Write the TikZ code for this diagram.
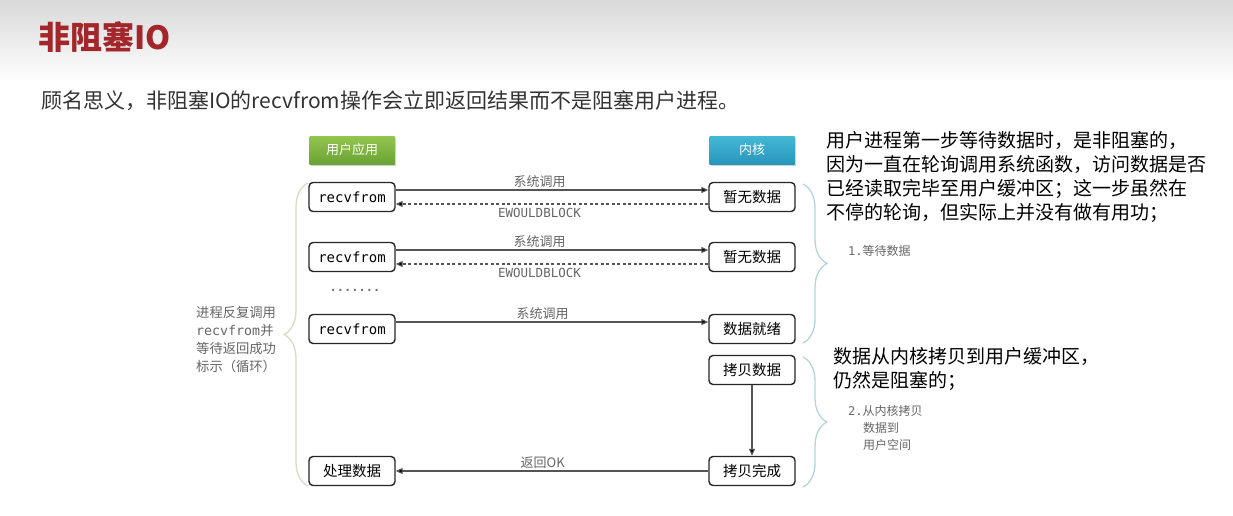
\documentclass[tikz,border=0pt]{standalone}
\usepackage{fontspec}
\setmainfont{Noto Sans CJK SC}
\newfontfamily\monof{DejaVu Sans Mono}
\usetikzlibrary{arrows.meta,shadows,decorations.pathreplacing,calc}
\definecolor{titlered}{HTML}{A3262A}
\definecolor{txtgray}{HTML}{666666}
\definecolor{linegray}{HTML}{555555}
\definecolor{lbrace}{HTML}{D9DCC4}
\definecolor{rbrace}{HTML}{B5D5DB}
\definecolor{gtop}{HTML}{93C64F}
\definecolor{gbot}{HTML}{6BA233}
\definecolor{btop}{HTML}{45B8D6}
\definecolor{bbot}{HTML}{2696BD}
\tikzset{
  box/.style={draw=black!85, line width=1.4pt, rounded corners=4pt, minimum width=86pt, minimum height=29pt, inner sep=0pt, fill=white, font=\fontsize{14.5}{16}\selectfont},
  hdr/.style={minimum width=85pt, minimum height=28pt, inner sep=0pt, text=white, font=\fontsize{13}{15}\selectfont, drop shadow={shadow xshift=1pt, shadow yshift=-2pt, opacity=0.35}},
  call/.style={draw=linegray, line width=1.1pt, -{Triangle[length=7pt,width=6pt,fill=black]}},
  ret/.style={draw=linegray, line width=1.1pt, dashed, dash pattern=on 3pt off 2.5pt, -{Triangle[length=7pt,width=6pt,fill=black]}},
  lbl/.style={text=txtgray, font=\fontsize{13}{15}\selectfont, inner sep=2pt},
  mlbl/.style={text=txtgray, font=\monof\fontsize{12.5}{15}\selectfont, inner sep=3.5pt},
  brc/.style={decorate, decoration={brace, amplitude=24pt}, line width=1.3pt},
}
\begin{document}
\begin{tikzpicture}[x=1pt,y=-1pt]
\useasboundingbox (0,0) rectangle (1233,515);
\fill[white] (0,0) rectangle (1233,515);
\shade[top color=black!15, bottom color=white] (0,0) rectangle (1233,82);
% title
\node[anchor=west, text=titlered, font=\bfseries\fontsize{32}{36}\selectfont, inner sep=0pt] (title) at (38,37) {非阻塞IO};
\node[anchor=west, text=black!80, font=\fontsize{21}{24}\selectfont, inner sep=0pt] (sub) at (41,101) {顾名思义，非阻塞IO的recvfrom操作会立即返回结果而不是阻塞用户进程。};
% headers
\node[hdr, top color=gtop, bottom color=gbot] (ua) at (352,150) {用户应用};
\node[hdr, top color=btop, bottom color=bbot] (kn) at (752,150) {内核};
% boxes
\node[box, font=\monof\fontsize{14}{16}\selectfont] (r1) at (352,197) {recvfrom};
\node[box] (k1) at (752,197) {暂无数据};
\node[box, font=\monof\fontsize{14}{16}\selectfont] (r2) at (352,257) {recvfrom};
\node[box] (k2) at (752,257) {暂无数据};
\node[box, font=\monof\fontsize{14}{16}\selectfont] (r3) at (352,329) {recvfrom};
\node[box] (k3) at (752,329) {数据就绪};
\node[box] (k4) at (752,370) {拷贝数据};
\node[box] (r5) at (352,471) {处理数据};
\node[box] (k5) at (752,471) {拷贝完成};
% arrows
\draw[call] ([yshift=7pt]r1.east) -- node[lbl, above, pos=0.46]{系统调用} ([yshift=7pt]k1.west);
\draw[ret] ([yshift=-7pt]k1.west) -- node[mlbl, below, pos=0.54]{EWOULDBLOCK} ([yshift=-7pt]r1.east);
\draw[call] ([yshift=7pt]r2.east) -- node[lbl, above, pos=0.46]{系统调用} ([yshift=7pt]k2.west);
\draw[ret] ([yshift=-7pt]k2.west) -- node[mlbl, below, pos=0.54]{EWOULDBLOCK} ([yshift=-7pt]r2.east);
\draw[call] ([yshift=7pt]r3.east) -- node[lbl, above, pos=0.47]{系统调用} ([yshift=7pt]k3.west);
\draw[call] (k5.west) -- node[lbl, above, pos=0.53]{返回OK} (r5.east);
\draw[call] (k4.south) -- (k5.north);
\node[mlbl, font=\monof\bfseries\fontsize{12}{14}\selectfont, text=black!55] (dots) at (355,290) {.......};
% braces
\coordinate (lbt) at (308,183);
\coordinate (lbb) at (308,486);
\draw[brc, draw=lbrace, decoration={mirror}] (lbt) -- (lbb);
\coordinate (rb1t) at (803,184);
\coordinate (rb1b) at (803,343);
\draw[brc, draw=rbrace] (rb1t) -- (rb1b);
\coordinate (rb2t) at (803,357);
\coordinate (rb2b) at (803,487);
\draw[brc, draw=rbrace] (rb2t) -- (rb2b);
% side texts
\node[anchor=west, align=left, text=txtgray, font=\fontsize{13.3}{18}\selectfont, inner sep=0pt] (lt) at (196,340) {进程反复调用\\{\monof recvfrom}并\\等待返回成功\\标示（循环）};
\node[anchor=west, text=txtgray, font=\fontsize{12}{14}\selectfont, inner sep=0pt] (s1) at (848,251) {{\monof 1.}等待数据};
\node[anchor=north west, align=left, text=txtgray, font=\fontsize{12}{17}\selectfont, inner sep=0pt] (s2) at (848,405) {{\monof 2.}从内核拷贝\\\hspace*{15pt}数据到\\\hspace*{15pt}用户空间};
\node[anchor=west, align=left, text=black, font=\fontsize{19}{24}\selectfont, inner sep=0pt] (t1) at (826,177) {用户进程第一步等待数据时，是非阻塞的，\\因为一直在轮询调用系统函数，访问数据是否\\已经读取完毕至用户缓冲区；这一步虽然在\\不停的轮询，但实际上并没有做有用功；};
\node[anchor=west, align=left, text=black, font=\fontsize{19}{24}\selectfont, inner sep=0pt] (t2) at (833,369) {数据从内核拷贝到用户缓冲区，\\仍然是阻塞的；};
\end{tikzpicture}
\end{document}
